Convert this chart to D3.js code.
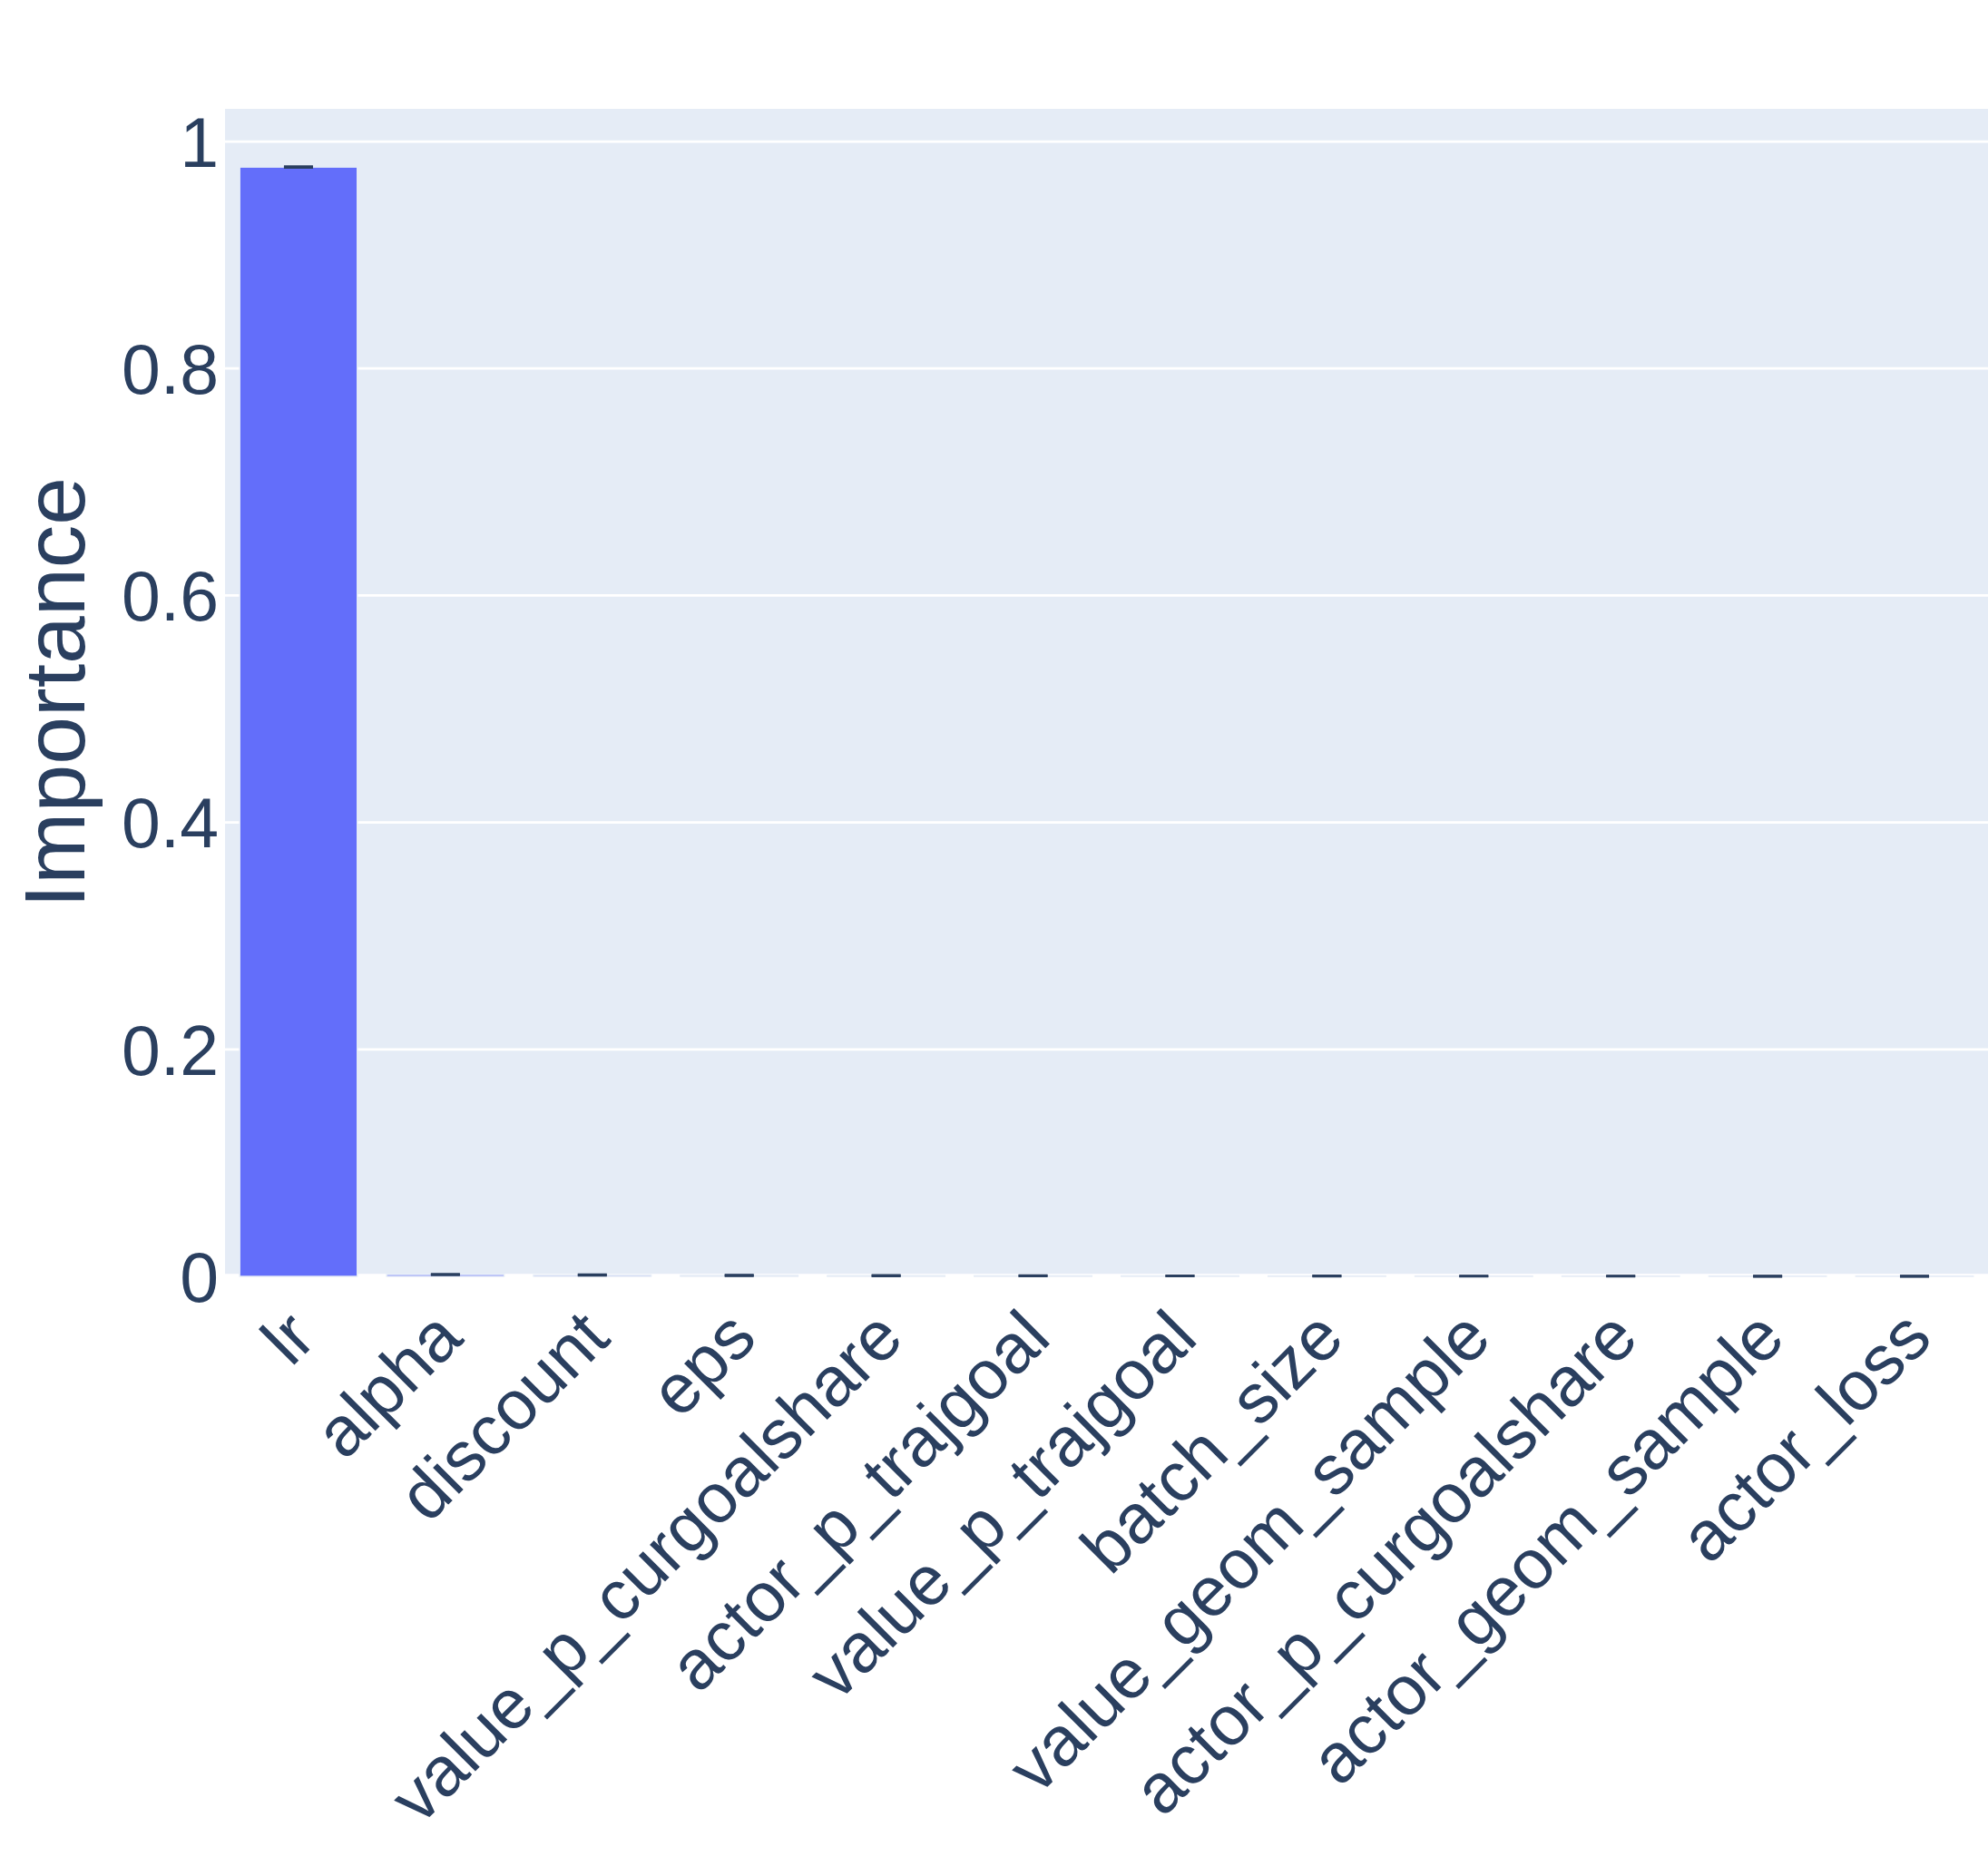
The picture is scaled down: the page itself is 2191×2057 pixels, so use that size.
<!DOCTYPE html>
<html>
<head>
<meta charset="utf-8">
<script src="https://cdn.jsdelivr.net/npm/d3@7"></script>
<style>
  body { margin: 0; background: #fff; }
  svg { display: block; }
</style>
</head>
<body>
<div id="chart"></div>
<script>
var params = ['lr', 'alpha', 'discount', 'eps', 'value_p_curgoalshare', 'actor_p_trajgoal',
    'value_p_trajgoal', 'batch_size', 'value_geom_sample', 'actor_p_curgoalshare',
    'actor_geom_sample', 'actor_loss'];
var importance = [0.9775, 0.0016, 0.0012, 0.0008, 0.0006, 0.0005, 0.0004, 0.0003, 0.0002, 0.0002, 0.0001, 0.0001];
var error = [0.0004, 0.0003, 0.0003, 0.0002, 0.0002, 0.0002, 0.0001, 0.0001, 0.0001, 0.0001, 0.0001, 0.0001];
var y_ticks = [0, 0.2, 0.4, 0.6, 0.8, 1];

var chart_width = 2191;
var chart_height = 2057;
var plot_left = 248, plot_right = 2191, plot_top = 120, plot_bottom = 1407;
var text_color = '#2a3f5f';
var font = '"Liberation Sans", Arial, sans-serif';

var svg = d3.select('#chart')
    .append('svg')
    .attr('width', chart_width)
    .attr('height', chart_height)

var x_scale = d3.scaleBand()
    .domain(params)
    .range([plot_left, plot_right])
    .paddingInner(0.2)
    .paddingOuter(0.1)

var y_scale = d3.scaleLinear()
    .domain([0, 1.0288])
    .range([plot_bottom, plot_top])

// plot background
svg.append('rect')
    .attr('x', plot_left)
    .attr('y', plot_top)
    .attr('width', plot_right - plot_left)
    .attr('height', plot_bottom - plot_top)
    .attr('fill', '#E5ECF6')

// grid lines
svg.selectAll('.grid')
    .data(y_ticks.filter(function (d) { return d > 0 }))
    .enter()
    .append('line')
    .attr('x1', plot_left)
    .attr('x2', plot_right)
    .attr('y1', function (d) { return y_scale(d) })
    .attr('y2', function (d) { return y_scale(d) })
    .attr('stroke', '#fff')
    .attr('stroke-width', 2.8)

// zero line
svg.append('line')
    .attr('x1', plot_left)
    .attr('x2', plot_right)
    .attr('y1', y_scale(0))
    .attr('y2', y_scale(0))
    .attr('stroke', '#fff')
    .attr('stroke-width', 5.6)

// bars
svg.selectAll('.bar')
    .data(params)
    .enter()
    .append('rect')
    .attr('x', function (d) { return x_scale(d) })
    .attr('y', function (d, i) { return y_scale(importance[i]) })
    .attr('width', x_scale.bandwidth())
    .attr('height', function (d, i) { return y_scale(0) - y_scale(importance[i]) })
    .attr('fill', '#636efa')
    .attr('stroke', '#E5ECF6')
    .attr('stroke-width', 1.4)

// error bars
var err = svg.selectAll('.err')
    .data(params)
    .enter()
    .append('g')
    .attr('stroke', text_color)
    .attr('stroke-width', 2.8)

err.append('line')
    .attr('x1', function (d) { return x_scale(d) + x_scale.bandwidth() / 2 })
    .attr('x2', function (d) { return x_scale(d) + x_scale.bandwidth() / 2 })
    .attr('y1', function (d, i) { return y_scale(importance[i] + error[i]) })
    .attr('y2', function (d, i) { return y_scale(importance[i] - error[i]) })

err.selectAll('.cap')
    .data(function (d) {
        var i = params.indexOf(d);
        return [importance[i] + error[i], importance[i] - error[i]].map(function (v) {
            return { name: d, v: v }
        })
    })
    .enter()
    .append('line')
    .attr('x1', function (d) { return x_scale(d.name) + x_scale.bandwidth() / 2 - 16 })
    .attr('x2', function (d) { return x_scale(d.name) + x_scale.bandwidth() / 2 + 16 })
    .attr('y1', function (d) { return y_scale(d.v) })
    .attr('y2', function (d) { return y_scale(d.v) })

// y tick labels
svg.selectAll('.ytick')
    .data(y_ticks)
    .enter()
    .append('text')
    .text(function (d) { return d3.format('~g')(d) })
    .attr('x', 241)
    .attr('y', function (d) { return y_scale(d) })
    .attr('dy', '0.36em')
    .attr('text-anchor', 'end')
    .attr('font-family', font)
    .attr('font-size', 77)
    .attr('fill', text_color)

// x tick labels
svg.selectAll('.xtick')
    .data(params)
    .enter()
    .append('text')
    .text(function (d) { return d })
    .attr('transform', function (d) {
        var cx = x_scale(d) + x_scale.bandwidth() / 2;
        return 'translate(' + (cx + 22) + ',' + 1478 + ') rotate(-45)'
    })
    .attr('text-anchor', 'end')
    .attr('font-family', font)
    .attr('font-size', 77)
    .attr('fill', text_color)

// y axis title
svg.append('text')
    .text('Importance')
    .attr('transform', 'translate(93,' + ((plot_top + plot_bottom) / 2) + ') rotate(-90)')
    .attr('text-anchor', 'middle')
    .attr('font-family', font)
    .attr('font-size', 95)
    .attr('fill', text_color)
</script>
</body>
</html>
